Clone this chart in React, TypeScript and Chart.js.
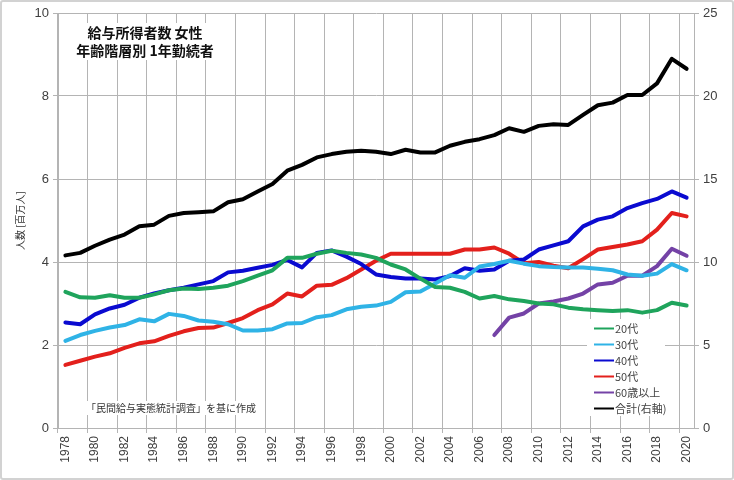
import React, { useEffect, useRef } from 'react';
import { Chart, registerables } from 'chart.js';

Chart.register(...registerables);

const years = [
  '1978', '1979', '1980', '1981', '1982', '1983', '1984', '1985', '1986', '1987',
  '1988', '1989', '1990', '1991', '1992', '1993', '1994', '1995', '1996', '1997',
  '1998', '1999', '2000', '2001', '2002', '2003', '2004', '2005', '2006', '2007',
  '2008', '2009', '2010', '2011', '2012', '2013', '2014', '2015', '2016', '2017',
  '2018', '2019', '2020',
];

const age20s = [
  3.28, 3.15, 3.14, 3.2, 3.14, 3.14, 3.22, 3.32, 3.36, 3.35,
  3.38, 3.43, 3.54, 3.67, 3.8, 4.1, 4.1, 4.2, 4.27, 4.22,
  4.18, 4.1, 3.94, 3.82, 3.6, 3.4, 3.38, 3.28, 3.12, 3.18,
  3.1, 3.06, 3.0, 2.98, 2.9, 2.86, 2.84, 2.82, 2.84, 2.78,
  2.84, 3.02, 2.95,
];

const age30s = [
  2.1, 2.24, 2.34, 2.42, 2.48, 2.62, 2.57, 2.75, 2.7, 2.59,
  2.56, 2.5, 2.35, 2.35, 2.38, 2.52, 2.53, 2.67, 2.72, 2.86,
  2.92, 2.95, 3.04, 3.27, 3.29, 3.48, 3.68, 3.62, 3.89, 3.95,
  4.03, 3.96, 3.9, 3.88, 3.87, 3.87, 3.84, 3.8, 3.7, 3.67,
  3.72, 3.95, 3.8,
];

const age40s = [
  2.54, 2.5, 2.74, 2.88, 2.97, 3.14, 3.24, 3.32, 3.38, 3.46,
  3.54, 3.75, 3.79, 3.86, 3.93, 4.05, 3.87, 4.22, 4.28, 4.13,
  3.95, 3.7, 3.64, 3.6, 3.6, 3.58, 3.66, 3.85, 3.79, 3.82,
  4.03, 4.06, 4.3, 4.4, 4.5, 4.86, 5.02, 5.1, 5.3, 5.42,
  5.52, 5.7, 5.55,
];

const age50s = [
  1.52, 1.62, 1.72, 1.8, 1.93, 2.04, 2.09, 2.22, 2.33, 2.41,
  2.42, 2.53, 2.65, 2.84, 2.98, 3.24, 3.17, 3.43, 3.45, 3.61,
  3.82, 4.03, 4.2, 4.2, 4.2, 4.2, 4.2, 4.3, 4.3, 4.35,
  4.2, 3.97, 4.0, 3.91, 3.85, 4.07, 4.3, 4.36, 4.42, 4.5,
  4.78, 5.18, 5.1,
];

const age60plus = [
  null, null, null, null, null, null, null, null, null, null,
  null, null, null, null, null, null, null, null, null, null,
  null, null, null, null, null, null, null, null, null, 2.24,
  2.66, 2.76, 3.0, 3.05, 3.12, 3.24, 3.46, 3.5, 3.67, 3.67,
  3.9, 4.32, 4.15,
];

const totalRight = [
  10.4, 10.55, 10.98, 11.35, 11.65, 12.15, 12.25, 12.78, 12.95, 13.0,
  13.05, 13.6, 13.78, 14.25, 14.7, 15.5, 15.85, 16.3, 16.5, 16.64,
  16.7, 16.64, 16.5, 16.76, 16.6, 16.6, 17.0, 17.24, 17.4, 17.64,
  18.06, 17.84, 18.2, 18.3, 18.26, 18.86, 19.44, 19.6, 20.06, 20.06,
  20.76, 22.24, 21.64,
];

const seriesLabels = ['20代', '30代', '40代', '50代', '60歳以上', '合計(右軸)'];
const seriesColors = ['#1fa45c', '#2fb3e6', '#0a0ad0', '#e3201c', '#7442a6', '#000000'];

const titleLines = ['給与所得者数 女性', '年齢階層別 1年勤続者'];
const yAxisTitle = '人数 [百万人]';
const sourceNote = '「民間給与実態統計調査」を基に作成';

const JP = '"Noto Sans CJK JP", "Noto Sans", sans-serif';
const NUM = '"Liberation Sans", Arial, sans-serif';
const GRID = '#b4b4b4';

const overlayPlugin = {
  id: 'overlayTexts',
  afterDraw(chart: any) {
    const ctx = chart.ctx;
    ctx.save();
    // title box
    ctx.fillStyle = '#ffffff';
    ctx.fillRect(72, 23, 148, 37);
    ctx.fillStyle = '#111111';
    ctx.font = `bold 14px ${JP}`;
    ctx.textAlign = 'center';
    ctx.textBaseline = 'middle';
    ctx.fillText(titleLines[0], 145, 33);
    ctx.fillText(titleLines[1], 145, 51);

    // source note
    ctx.font = `10px ${JP}`;
    ctx.textAlign = 'left';
    const nw = ctx.measureText(sourceNote).width;
    ctx.fillStyle = '#ffffff';
    ctx.fillRect(84, 401, nw + 4, 14);
    ctx.fillStyle = '#333333';
    ctx.fillText(sourceNote, 86, 408);

    // legend
    const lx = 587;
    const ly = 319;
    ctx.fillStyle = '#ffffff';
    ctx.fillRect(lx, ly, 78, 97);
    ctx.font = `11px ${JP}`;
    seriesLabels.forEach((label, i) => {
      const y = 328.5 + i * 16;
      ctx.strokeStyle = seriesColors[i];
      ctx.lineWidth = 2;
      ctx.beginPath();
      ctx.moveTo(594, y);
      ctx.lineTo(614, y);
      ctx.stroke();
      ctx.fillStyle = '#444444';
      ctx.textAlign = 'left';
      ctx.fillText(label, 615, y);
    });
    ctx.restore();
  },
};

export default function App() {
  const ref = useRef<HTMLCanvasElement | null>(null);

  useEffect(() => {
    if (!ref.current) return;
    const leftSeries = [age20s, age30s, age40s, age50s, age60plus];
    const datasets: any[] = leftSeries.map((d, i) => ({
      label: seriesLabels[i],
      data: d,
      borderColor: seriesColors[i],
      backgroundColor: seriesColors[i],
      borderWidth: 4,
      pointRadius: 0,
      tension: 0,
      spanGaps: false,
      yAxisID: 'y',
      borderJoinStyle: 'round',
      borderCapStyle: 'round',
    }));
    datasets.push({
      label: seriesLabels[5],
      data: totalRight,
      borderColor: seriesColors[5],
      backgroundColor: seriesColors[5],
      borderWidth: 4,
      pointRadius: 0,
      tension: 0,
      yAxisID: 'y1',
      borderJoinStyle: 'round',
      borderCapStyle: 'round',
    });

    const chart = new Chart(ref.current, {
      type: 'line',
      data: { labels: years, datasets },
      plugins: [overlayPlugin],
      options: {
        animation: false,
        responsive: false,
        maintainAspectRatio: false,
        layout: { padding: { top: 13, left: 0, right: 0, bottom: 0 } },
        plugins: {
          legend: { display: false },
          title: { display: false },
          tooltip: { enabled: false },
        },
        scales: {
          x: {
            type: 'category',
            offset: true,
            grid: {
              offset: true,
              color: (c: any) => (c.index % 2 === 0 ? GRID : 'rgba(0,0,0,0)'),
              tickColor: (c: any) => (c.index % 2 === 0 ? GRID : 'rgba(0,0,0,0)'),
              tickLength: 5,
              lineWidth: 1,
            },
            border: { color: GRID },
            ticks: {
              autoSkip: false,
              maxRotation: 90,
              minRotation: 90,
              padding: 3,
              color: '#404040',
              font: { family: NUM, size: 12 },
              callback: (_v: any, i: number) => (i % 2 === 0 ? years[i] : ''),
            },
            afterFit: (s: any) => {
              s.height = 52;
            },
          },
          y: {
            position: 'left',
            min: 0,
            max: 10,
            grid: { color: GRID, tickLength: 5, tickColor: GRID },
            border: { color: GRID },
            ticks: {
              stepSize: 2,
              padding: 4,
              color: '#404040',
              font: { family: NUM, size: 13 },
            },
            title: {
              display: true,
              text: yAxisTitle,
              color: '#333333',
              font: { family: JP, size: 10 },
              padding: { top: 14, bottom: 0 },
            },
            afterFit: (s: any) => {
              s.width = 58;
            },
          },
          y1: {
            position: 'right',
            min: 0,
            max: 25,
            grid: { drawOnChartArea: false, tickLength: 5, color: GRID, tickColor: GRID },
            border: { color: GRID },
            ticks: {
              stepSize: 5,
              padding: 4,
              color: '#404040',
              font: { family: NUM, size: 13 },
            },
            afterFit: (s: any) => {
              s.width = 40;
            },
          },
        },
      },
    } as any);

    return () => chart.destroy();
  }, []);

  return (
    <div style={{ position: 'fixed', left: 0, top: 0, width: 734, height: 480, background: '#ffffff' }}>
      <canvas ref={ref} width={734} height={480} style={{ display: 'block', width: 734, height: 480 }} />
      <div
        style={{
          position: 'absolute',
          left: 0,
          top: 0,
          width: 734,
          height: 480,
          boxSizing: 'border-box',
          border: '2px solid #d2d2d2',
          borderRadius: 3,
          pointerEvents: 'none',
        }}
      />
    </div>
  );
}
